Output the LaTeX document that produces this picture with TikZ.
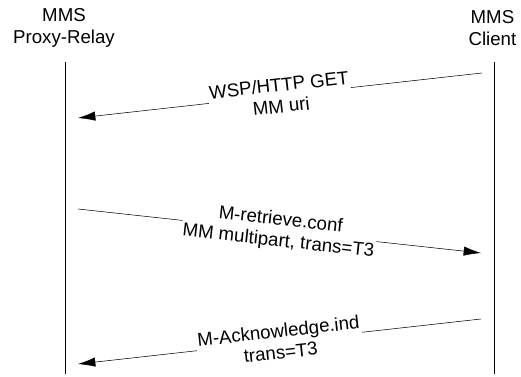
\documentclass[tikz,border=0pt]{standalone}
\usepackage{fontspec}
\setmainfont{Liberation Sans}
\usetikzlibrary{arrows.meta}

\begin{document}
\begin{tikzpicture}[x=0.75pt,y=-0.75pt,font=\fontsize{14}{16}\selectfont]
\tikzset{
  msg/.style={-{Latex[length=13pt,width=7pt]}},
  msglabel/.style={sloped,fill=white,align=center,inner sep=1pt}
}
\useasboundingbox (0,0) rectangle (521,377);

\node [align=center] (proxy) at (64,28) {MMS\\Proxy-Relay};
\node [align=center,anchor=east] (client) at (521,28) {MMS\\Client};

\coordinate (ptop) at (65,62);
\coordinate (pbot) at (65,374);
\coordinate (ctop) at (494,62);
\coordinate (cbot) at (494,374);
\draw (ptop) -- (pbot);
\draw (ctop) -- (cbot);

\coordinate (get1) at (482,73);
\coordinate (get2) at (78,118);
\draw [msg] (get1) -- node [msglabel] {WSP/HTTP GET\\MM uri} (get2);

\coordinate (conf1) at (78,209);
\coordinate (conf2) at (481,253);
\draw [msg] (conf1) -- node [msglabel] {M-retrieve.conf\\MM multipart, trans=T3} (conf2);

\coordinate (ack1) at (481,319);
\coordinate (ack2) at (78,364);
\draw [msg] (ack1) -- node [msglabel] {M-Acknowledge.ind\\trans=T3} (ack2);
\end{tikzpicture}
\end{document}
